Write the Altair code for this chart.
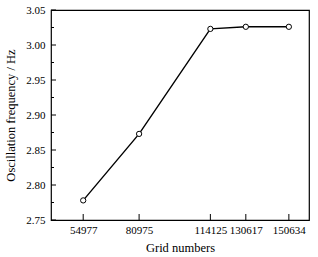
import altair as alt
import pandas as pd

grid = [54977, 80975, 114125, 130617, 150634]
freq = [2.778, 2.873, 3.023, 3.026, 3.026]
x_ticks = [54977, 80975, 114125, 130617, 150634]
y_ticks = [2.75, 2.80, 2.85, 2.90, 2.95, 3.00, 3.05]
y_minor = [2.775, 2.825, 2.875, 2.925, 2.975, 3.025]

df = pd.DataFrame({"x": grid, "y": freq})
df_xt = pd.DataFrame({"x": x_ticks})
df_yt = pd.DataFrame({"y": y_ticks})
df_ym = pd.DataFrame({"y": y_minor})

FONT = "Liberation Serif"
xscale = alt.Scale(domain=[40000, 160000], nice=False, zero=False)
yscale = alt.Scale(domain=[2.75, 3.05], nice=False, zero=False)
xaxis = alt.Axis(values=x_ticks, format="d", ticks=False, domain=False, grid=False,
                 labelFont=FONT, labelFontSize=11, labelColor="black", labelPadding=4,
                 title="Grid numbers", titleFont=FONT, titleFontSize=12.5,
                 titleFontWeight="normal", titleColor="black", titlePadding=6)
yaxis = alt.Axis(values=y_ticks, format=".2f", ticks=False, domain=False, grid=False,
                 labelFont=FONT, labelFontSize=11, labelColor="black", labelPadding=6,
                 title="Oscillation frequency / Hz", titleFont=FONT, titleFontSize=12.5,
                 titleFontWeight="normal", titleColor="black", titlePadding=8)

X = alt.X("x:Q", scale=xscale, axis=xaxis)
Y = alt.Y("y:Q", scale=yscale, axis=yaxis)

line = alt.Chart(df).mark_line(color="black", strokeWidth=1.4).encode(x=X, y=Y)
pts = alt.Chart(df).mark_point(shape="circle", filled=True, fill="white", stroke="black",
                               strokeWidth=1, size=28, opacity=1).encode(x=X, y=Y)
xt = alt.Chart(df_xt).mark_rule(color="black", strokeWidth=1).encode(
    x=X, y=alt.value(210), y2=alt.value(204))
yt = alt.Chart(df_yt).mark_rule(color="black", strokeWidth=1).encode(
    y=Y, x=alt.value(0), x2=alt.value(5))
ym = alt.Chart(df_ym).mark_rule(color="black", strokeWidth=1).encode(
    y=Y, x=alt.value(0), x2=alt.value(3))

chart = alt.layer(xt, yt, ym, line, pts).properties(
    width=258, height=210,
    autosize=alt.AutoSizeParams(type="none"),
    padding={"left": 51, "top": 10, "right": 9, "bottom": 37},
    background="white",
).configure_view(stroke="black", strokeWidth=1.2)

chart.save("out.html", embed_options={"renderer": "svg", "actions": False})
